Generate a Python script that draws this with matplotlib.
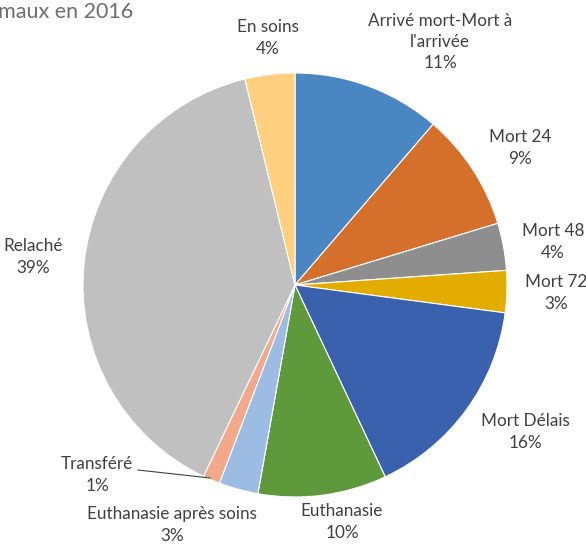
import numpy as np
import matplotlib.pyplot as plt

plt.rcParams['font.family'] = ['Lato', 'DejaVu Sans']

categories = ["Arrivé mort-Mort à\nl'arrivée", "Mort 24", "Mort 48", "Mort 72",
              "Mort Délais", "Euthanasie", "Euthanasie après soins", "Transféré",
              "Relaché", "En soins"]
values = [11.3, 9.0, 3.6, 3.2, 15.9, 9.8, 3.0, 1.3, 39.1, 3.8]
colors = ['#4a86c1', '#d4702b', '#8e8e8e', '#e2ad00', '#3a61ae', '#5e9a3b',
          '#9dbce4', '#f1a88b', '#c0c0c0', '#ffd07f']

W, H = 586, 544
fig = plt.figure(figsize=(W / 100, H / 100), dpi=100)
ax = fig.add_axes([0, 0, 1, 1])

ax.pie(values, colors=colors, startangle=90, counterclock=False,
       center=(295, H - 285), radius=212, frame=True,
       wedgeprops=dict(edgecolor='white', linewidth=0.8))
ax.set_xlim(0, W)
ax.set_ylim(0, H)
ax.axis('off')

# label positions in pixels (x, y from top)
label_pos = [(440, 42), (520, 148), (553, 242), (556, 293), (525, 432),
             (342, 522), (172, 525), (97, 475), (33, 257), (268, 38)]
tcol = '#404040'
for cat, v, (lx, ly) in zip(categories, values, label_pos):
    ax.text(lx, H - ly, "%s\n%d%%" % (cat, round(v)), ha='center', va='center',
            fontsize=12.3, color=tcol, linespacing=1.4)

# leader line for Transféré
ax.plot([138, 210], [H - 470, H - 478], color='#404040', lw=0.8)

# title is cut off at the left edge, as in the original
ax.text(133, H - 12, "Devenir des animaux en 2016", ha='right', va='center',
        fontsize=15.5, color='#6e6e6e')

fig.savefig('out.png', dpi=100)
